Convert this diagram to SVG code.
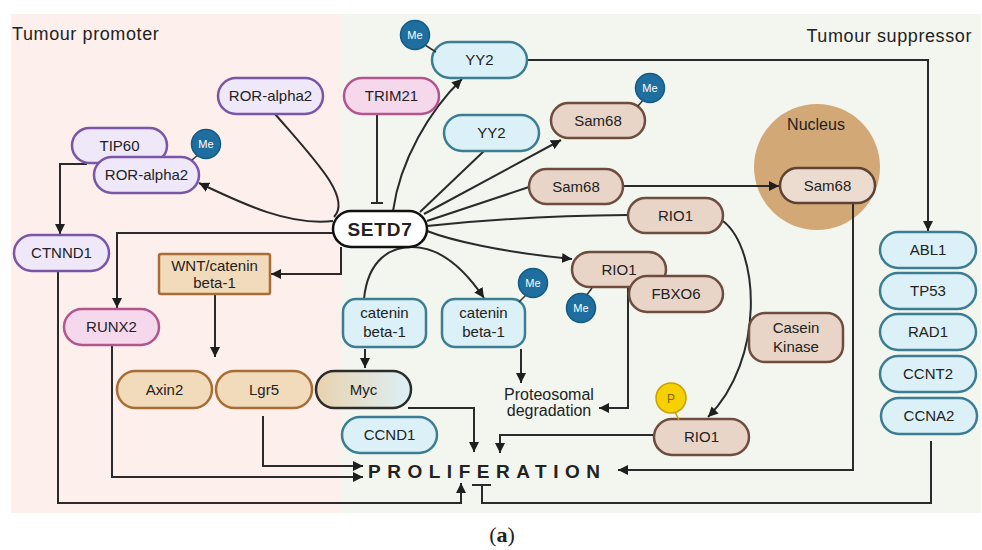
<svg xmlns="http://www.w3.org/2000/svg" width="982" height="550" viewBox="0 0 982 550">
<defs>
<marker id="ah" viewBox="0 0 10 10" refX="10" refY="5" markerWidth="10" markerHeight="10" markerUnits="userSpaceOnUse" orient="auto">
<path d="M0,0 L10,5 L0,10 Z" fill="#1e1e1e"/>
</marker>
<linearGradient id="mycg" x1="0" y1="0" x2="1" y2="0">
<stop offset="0" stop-color="#e9d2ae"/>
<stop offset="1" stop-color="#dcf0f6"/>
</linearGradient>
<style>
text{font-family:"Liberation Sans",Arial,sans-serif;fill:#222;}
.lbl{font-size:15px;text-anchor:middle;}
.pur{fill:#eee8f8;stroke:#7a55a8;stroke-width:2.5;}
.pnk{fill:#f6d8ec;stroke:#b3558f;stroke-width:2.5;}
.blu{fill:#dcf0f7;stroke:#3b7e94;stroke-width:2.5;}
.brn{fill:#e8d5c8;stroke:#6e4d3e;stroke-width:2.5;}
.tan{fill:#f2dbbb;stroke:#a86d35;stroke-width:2.5;}
.me circle{fill:#1e6fa0;stroke:#135a85;stroke-width:1.5;}
.me text{fill:#fff;font-size:11px;text-anchor:middle;}
.me line{stroke:#333;stroke-width:1.5;}
.c{fill:none;stroke:#2a2a2a;stroke-width:2;}
.a{marker-end:url(#ah);}
.hdr{font-size:18px;letter-spacing:0.6px;}
</style>
</defs>
<rect x="11" y="14" width="330" height="499" fill="#fdefeb"/>
<rect x="341" y="14" width="640" height="499" fill="#f3f6ef"/>
<text class="hdr" x="12" y="40">Tumour promoter</text>
<text class="hdr" x="972" y="42" text-anchor="end">Tumour suppressor</text>
<g id="nucleus">
<circle cx="817" cy="167" r="63" fill="#d3a877"/>
<text x="816" y="130" font-size="16" text-anchor="middle">Nucleus</text>
</g>
<g id="connectors">
<path class="c a" d="M527,60 H928 V231"/>
<path class="c a" d="M393,211 C400,160 430,110 462,79"/>
<path class="c" d="M484,151 L420,212"/>
<path class="c a" d="M424,214 L561,140"/>
<path class="c" d="M529,187 L427,221"/>
<path class="c a" d="M623,186 H779"/>
<path class="c" d="M628,215 Q520,216 427,226"/>
<path class="c a" d="M427,231 C450,240 500,252 572,259"/>
<path class="c a" d="M723,221 C760,250 765,360 708,417"/>
<path class="c a" d="M628,287 V408 H599"/>
<path class="c a" d="M521,349 V383"/>
<path class="c a" d="M364,299 C368,258 392,247 412,247 C440,247 465,270 484,298"/>
<path class="c a" d="M365,349 V368"/>
<path class="c" d="M377,114 V203 M371,203 H383"/>
<path class="c" d="M275,114 C315,160 352,198 334,217"/>
<path class="c a" d="M333,221 C290,226 245,205 199,183"/>
<path class="c a" d="M333,233 H117 V308"/>
<path class="c a" d="M341,247 V274 H271"/>
<path class="c a" d="M215,294 V357"/>
<path class="c a" d="M87,164 H60 V234"/>
<path class="c a" d="M58,271 V503 H461 V483"/>
<path class="c a" d="M112,345 V477 H363"/>
<path class="c a" d="M263,416 V466 H363"/>
<path class="c a" d="M408,408 H474 V452"/>
<path class="c a" d="M654,435 H500 V453"/>
<path class="c a" d="M853,203 V470 H618"/>
<path class="c" d="M931,441 V503 H482 V485 M472,485 H491"/>
</g>
<g id="ror-alpha2-a"><rect class="pur" x="218" y="78" width="105" height="36" rx="18"/><text class="lbl" x="270.5" y="101">ROR-alpha2</text></g>
<g id="tip60"><rect class="pur" x="72" y="128" width="95" height="35" rx="17.5"/><text class="lbl" x="119.5" y="151">TIP60</text></g>
<g id="ror-alpha2-b"><rect class="pur" x="94" y="157" width="105" height="36" rx="18"/><text class="lbl" x="146.5" y="180">ROR-alpha2</text>
<g class="me"><line x1="199" y1="154" x2="192" y2="160"/><circle cx="206" cy="144" r="14.5"/><text x="206" y="148">Me</text></g></g>
<g id="ctnnd1"><rect class="pur" x="14" y="235" width="95" height="36" rx="18"/><text class="lbl" x="61.5" y="258">CTNND1</text></g>
<g id="wnt"><rect class="tan" x="159" y="254" width="111" height="40" rx="2"/><text class="lbl" x="214.5" y="271">WNT/catenin</text><text class="lbl" x="214.5" y="288">beta-1</text></g>
<g id="runx2"><rect class="pnk" x="64" y="309" width="95" height="36" rx="18"/><text class="lbl" x="111.5" y="332">RUNX2</text></g>
<g id="axin2"><rect class="tan" x="117" y="371" width="95" height="37" rx="18.5"/><text class="lbl" x="164.5" y="395">Axin2</text></g>
<g id="lgr5"><rect class="tan" x="216" y="371" width="96" height="37" rx="18.5"/><text class="lbl" x="264" y="395">Lgr5</text></g>
<g id="myc"><rect x="316" y="371" width="95" height="37" rx="18.5" fill="url(#mycg)" stroke="#2c2c2c" stroke-width="2.5"/><text class="lbl" x="363.5" y="395">Myc</text></g>
<g id="ccnd1"><rect class="blu" x="342" y="417" width="95" height="36" rx="18"/><text class="lbl" x="389.5" y="440">CCND1</text></g>
<g id="setd7"><rect x="333" y="211" width="94" height="36" rx="18" fill="#fff" stroke="#111" stroke-width="2.5"/><text x="380" y="236" font-size="19" font-weight="bold" text-anchor="middle" letter-spacing="0.8">SETD7</text></g>
<g id="trim21"><rect class="pnk" x="344" y="78" width="95" height="36" rx="18"/><text class="lbl" x="391.5" y="101">TRIM21</text></g>
<g id="yy2-a"><rect class="blu" x="432" y="42" width="95" height="36" rx="18"/><text class="lbl" x="479.5" y="65">YY2</text>
<g class="me"><line x1="425" y1="45" x2="436" y2="52"/><circle cx="415" cy="35" r="14.5"/><text x="415" y="39">Me</text></g></g>
<g id="yy2-b"><rect class="blu" x="444" y="115" width="95" height="36" rx="18"/><text class="lbl" x="491.5" y="138">YY2</text></g>
<g id="sam68-a"><rect class="brn" x="551" y="103" width="94" height="35" rx="17.5"/><text class="lbl" x="598" y="126">Sam68</text>
<g class="me"><line x1="644" y1="99" x2="638" y2="106"/><circle cx="650" cy="88" r="14.5"/><text x="650" y="92">Me</text></g></g>
<g id="sam68-b"><rect class="brn" x="529" y="169" width="94" height="35" rx="17.5"/><text class="lbl" x="576" y="192">Sam68</text></g>
<g id="rio1-a"><rect class="brn" x="628" y="198" width="95" height="35" rx="17.5"/><text class="lbl" x="675.5" y="221">RIO1</text></g>
<g id="rio1-b"><rect class="brn" x="572" y="252" width="94" height="35" rx="17.5"/><text class="lbl" x="619" y="275">RIO1</text>
<g class="me"><line x1="586" y1="296" x2="592" y2="288"/><circle cx="581" cy="308" r="14.5"/><text x="581" y="312">Me</text></g></g>
<g id="fbxo6"><rect class="brn" x="629" y="276" width="94" height="36" rx="18"/><text class="lbl" x="676" y="299">FBXO6</text></g>
<g id="catenin-a"><rect class="blu" x="343" y="299" width="83" height="48" rx="13"/><text class="lbl" x="384.5" y="318">catenin</text><text class="lbl" x="384.5" y="337">beta-1</text></g>
<g id="catenin-b"><rect class="blu" x="442" y="299" width="83" height="48" rx="13"/><text class="lbl" x="483.5" y="318">catenin</text><text class="lbl" x="483.5" y="337">beta-1</text>
<g class="me"><line x1="527" y1="294" x2="519" y2="302"/><circle cx="533" cy="283" r="14.5"/><text x="533" y="287">Me</text></g></g>
<g id="proteosomal"><text x="549" y="400" font-size="16" text-anchor="middle">Proteosomal</text><text x="549" y="416" font-size="16" text-anchor="middle">degradation</text></g>
<g id="sam68-nucleus"><rect x="780" y="168" width="95" height="35" rx="17.5" fill="#ecdcd0" stroke="#5e4234" stroke-width="2.5"/><text class="lbl" x="827.5" y="191">Sam68</text></g>
<g id="abl1"><rect class="blu" x="880" y="232" width="96" height="36" rx="18"/><text class="lbl" x="928" y="255">ABL1</text></g>
<g id="tp53"><rect class="blu" x="880" y="273" width="96" height="36" rx="18"/><text class="lbl" x="928" y="296">TP53</text></g>
<g id="rad1"><rect class="blu" x="880" y="314" width="96" height="36" rx="18"/><text class="lbl" x="928" y="337">RAD1</text></g>
<g id="ccnt2"><rect class="blu" x="880" y="356" width="96" height="36" rx="18"/><text class="lbl" x="928" y="379">CCNT2</text></g>
<g id="ccna2"><rect class="blu" x="881" y="398" width="96" height="36" rx="18"/><text class="lbl" x="929" y="421">CCNA2</text></g>
<g id="casein-kinase"><rect class="brn" x="749" y="313" width="94" height="49" rx="16"/><text class="lbl" x="796" y="333">Casein</text><text class="lbl" x="796" y="352">Kinase</text></g>
<g id="rio1-c"><rect class="brn" x="654" y="419" width="95" height="36" rx="18"/><text class="lbl" x="701.5" y="442">RIO1</text>
<line x1="675" y1="412" x2="679" y2="420" stroke="#c8a000" stroke-width="1.5"/><circle cx="671" cy="398" r="15" fill="#f7d000" stroke="#c8a000" stroke-width="1.5"/><text x="671" y="403" font-size="12" text-anchor="middle" style="fill:#7d6400">P</text></g>
<g id="proliferation"><text x="368" y="478" font-size="19" font-weight="bold" textLength="232" lengthAdjust="spacing">PROLIFERATION</text></g>
<text x="502" y="542" font-size="22" text-anchor="middle" style="font-family:'Liberation Serif','Times New Roman',serif">(<tspan font-weight="bold">a</tspan>)</text>
</svg>
